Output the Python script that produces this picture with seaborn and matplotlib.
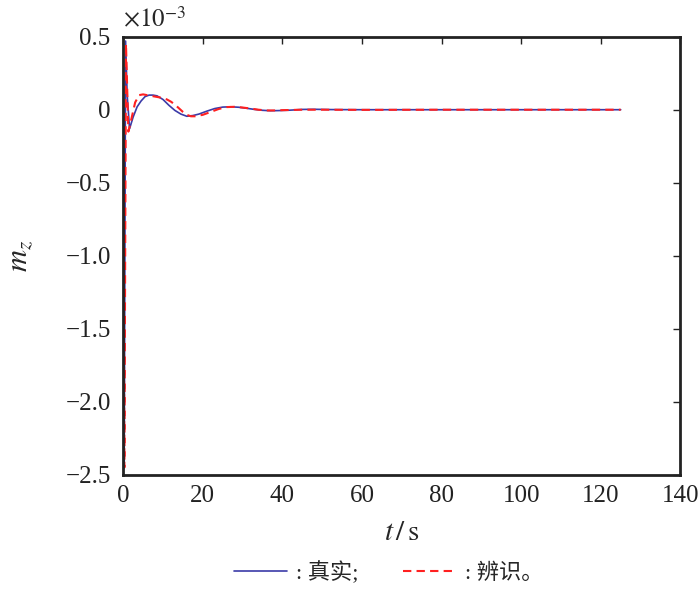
import pandas as pd
import matplotlib.pyplot as plt
import seaborn as sns
from matplotlib.lines import Line2D

# Dados (m_z em unidades de 1e-3)
t_real = [0, 0.25, 0.6, 1.0, 1.6, 2.5, 3.5, 4.5, 5.5, 6.5, 7.5, 8.5, 10, 11.5, 13, 14.5,
          16, 17.5, 19, 21, 23, 25, 27, 29, 31, 33, 35, 37, 39, 42, 45, 48, 52, 60, 80, 100, 125]
mz_real = [0, -2.45, 0.47, 0.1, -0.13, -0.05, 0.02, 0.06, 0.09, 0.10, 0.10, 0.095, 0.07, 0.03,
           -0.005, -0.03, -0.045, -0.04, -0.03, -0.01, 0.008, 0.018, 0.02, 0.017, 0.01, 0.002,
           -0.004, -0.007, -0.006, -0.003, 0.002, 0.003, 0.001, 0, 0, 0, 0]

t_ident = [0, 0.3, 0.7, 1.3, 2, 3, 4, 5, 6, 7, 8, 9, 10, 11, 12, 13, 14, 15, 16, 17, 18, 20,
           22, 24, 26, 28, 30, 32, 34, 36, 38, 40, 45, 50, 60, 80, 100, 125]
mz_ident = [0, -2.45, 0.45, -0.15, -0.07, 0.05, 0.1, 0.105, 0.1, 0.095, 0.09, 0.085, 0.08,
            0.07, 0.055, 0.035, 0.01, -0.015, -0.035, -0.045, -0.045, -0.035, -0.015, 0.005,
            0.018, 0.02, 0.015, 0.008, 0.0, -0.005, -0.005, -0.003, 0, 0, -0.001, 0, 0, 0]

x_ticks = [0, 20, 40, 60, 80, 100, 120, 140]
y_ticks = [0.5, 0, -0.5, -1.0, -1.5, -2.0, -2.5]
y_tick_labels = ["0.5", "0", "\u22120.5", "\u22121.0", "\u22121.5", "\u22122.0", "\u22122.5"]

df_real = pd.DataFrame({"t": t_real, "mz": mz_real})
df_ident = pd.DataFrame({"t": t_ident, "mz": mz_ident})

sns.set_style("white")
plt.rcParams["font.family"] = ["Liberation Serif", "Noto Sans CJK SC"]
plt.rcParams["mathtext.fontset"] = "stix"

fig = plt.figure(figsize=(7, 5.92), dpi=100)
ax = fig.add_axes([0.176, 0.198, 0.796, 0.740])

cor_real = "#3b3ba8"
cor_ident = "#ff2020"
sns.lineplot(data=df_real, x="t", y="mz", ax=ax, color=cor_real, lw=1.2, sort=False)
sns.lineplot(data=df_ident, x="t", y="mz", ax=ax, color=cor_ident, lw=1.5,
             linestyle=(0, (4, 2.5)), sort=False)

ax.set_xlim(0, 140)
ax.set_ylim(-2.5, 0.5)
ax.set_xticks(x_ticks)
ax.set_xticklabels([str(v) for v in x_ticks])
ax.set_yticks(y_ticks)
ax.set_yticklabels(y_tick_labels)
ax.tick_params(direction="in", length=5, width=1, labelsize=18, top=True, right=True,
               colors="#222222", labelcolor="#222222")
ax.tick_params(axis="y", pad=9)
ax.tick_params(axis="x", pad=7)
for s in ax.spines.values():
    s.set_linewidth(2)
    s.set_color("#222222")

ax.set_xlabel(r"$t\,/\,\mathrm{s}$", fontsize=21, labelpad=10)
ax.set_ylabel(r"$m_z$", fontsize=22, labelpad=22)
ax.text(0.0, 1.01, r"$\times10^{-3}$", transform=ax.transAxes, fontsize=18,
        ha="left", va="bottom")

handles = [Line2D([], [], color=cor_real, lw=1.2),
           Line2D([], [], color=cor_ident, lw=1.5, linestyle=(0, (4, 2.5)))]
fig.legend(handles, [": 真实;", ": 辨识。"], loc="lower center", ncol=2,
           bbox_to_anchor=(0.555, -0.02), frameon=False, fontsize=16,
           handlelength=2.4, columnspacing=2.0, handletextpad=0.4)

plt.savefig("out.png", dpi=100)
